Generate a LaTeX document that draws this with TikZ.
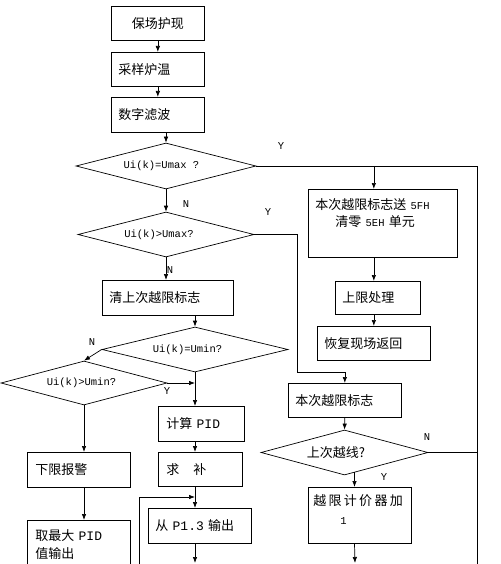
\documentclass[tikz,border=0pt]{standalone}
\usepackage{fontspec}
\setmainfont{Noto Sans CJK SC}
\setmonofont{Liberation Mono}
\usetikzlibrary{arrows.meta,shapes.geometric}
\newcommand\ksp{\kern2.3pt}
\begin{document}
\begin{tikzpicture}[x=1pt,y=-1pt,
  line width=0.7pt,
  box/.style={draw, rectangle, anchor=north west, inner xsep=7pt, inner ysep=0pt,
    font=\fontsize{13}{15.6}\selectfont, align=left},
  dia/.style={draw, diamond, shape aspect=4, inner sep=0pt,
    font=\ttfamily\fontsize{10.5}{12}\selectfont},
  arr/.style={-{Latex[length=6pt,width=4.5pt]}},
  lbl/.style={font=\ttfamily\fontsize{10.5}{12}\selectfont, inner sep=0pt}
]
\useasboundingbox (0,0) rectangle (500,564);

% boxes
\node[box, minimum width=93, minimum height=34, text width=79, align=center] (b1) at (111,6) {保场护现};
\node[box, minimum width=93, minimum height=34, text width=79] (b2) at (111,52) {采样炉温};
\node[box, minimum width=93, minimum height=35, text width=79] (b3) at (111,97) {数字滤波};
\node[box, minimum width=149, minimum height=68, text width=135] (b4) at (308,189)
  {本次越限标志送 {\ttfamily\fontsize{10.5}{12}\selectfont 5FH}\\[1.4pt]
   \hspace*{20pt}清零 {\ttfamily\fontsize{10.5}{12}\selectfont 5EH} 单元\\[7pt]\mbox{}};
\node[box, minimum width=85, minimum height=33, text width=71] (b5) at (335,281) {上限处理};
\node[box, minimum width=113, minimum height=34, text width=99] (b6) at (317,326) {恢复现场返回};
\node[box, minimum width=113, minimum height=34, text width=99] (b7) at (288,383) {本次越限标志};
\node[box, minimum width=103, minimum height=56, text width=93, inner xsep=5pt] (b8) at (308,487)
  {越\ksp 限\ksp 计\ksp 价\ksp 器\ksp 加\\[3.4pt]
   \hspace*{27pt}{\ttfamily\fontsize{10.5}{12}\selectfont 1}\\[-4pt]\mbox{}};
\node[box, minimum width=131, minimum height=35, text width=117] (b9) at (102,280) {清上次越限标志};
\node[box, minimum width=84, minimum height=35, text width=70, inner xsep=8pt] (b10) at (158,406)
  {计算 {\ttfamily PID}};
\node[box, minimum width=84, minimum height=34, text width=68, inner xsep=8pt] (b11) at (158,452)
  {求\hspace{14pt}补};
\node[box, minimum width=103, minimum height=35, text width=89] (b12) at (148,508)
  {从 {\ttfamily P1.3} 输出};
\node[box, minimum width=103, minimum height=35, text width=87, inner xsep=8pt] (b13) at (27,452) {下限报警};
\node[box, minimum width=103, minimum height=60, text width=87, inner xsep=8pt] (b14) at (27,520)
  {取最大 {\ttfamily PID}\\[2.4pt]值输出\\[-3.6pt]\mbox{}};

% diamonds
\node[dia, minimum width=180, minimum height=46] (d1) at (166,166) {Ui(k)=Umax ?\kern9pt};
\node[dia, minimum width=176, minimum height=45] (d2) at (166,234.5) {Ui(k)>Umax?\kern14pt};
\node[dia, minimum width=186, minimum height=45] (d3) at (195,349.5) {Ui(k)=Umin?\kern15pt};
\node[dia, minimum width=166, minimum height=44] (d4) at (84,383) {Ui(k)>Umin?\kern5pt};
\node[dia, minimum width=167, minimum height=45, font=\fontsize{13}{15.6}\selectfont] (d5) at (344.5,452.5) {上次越线?\kern17pt};

% labels
\node[lbl] (l1) at (281,146) {Y};
\node[lbl] (l2) at (186,204) {N};
\node[lbl] (l3) at (268,212) {Y};
\node[lbl] (l4) at (170,270) {N};
\node[lbl] (l5) at (92,342) {N};
\node[lbl] (l6) at (167,391) {Y};
\node[lbl] (l7) at (427,437) {N};
\node[lbl] (l8) at (384,477) {Y};

% coordinates
\coordinate (rt) at (477,166);
\coordinate (rb) at (477,570);
\coordinate (k1) at (297,372);
\coordinate (q1) at ([xshift=10pt,yshift=3pt]d5.south);
\coordinate (bot1) at (355,563);
\coordinate (fb) at (139,570);
\coordinate (fj) at (195,497);
\coordinate (bot2) at (195,563);

% connectors
\draw[arr] (b1.south) -- (b2.north);
\draw[arr] (b2.south) -- (b3.north);
\draw[arr] (d1.north |- b3.south) -- (d1.north);
\draw[arr] (d1.south) -- (d2.north);
\draw (d1.east) -- (rt) -- (rb);
\draw[arr] (d1.east -| b6.north) -- (b4.north -| b6.north);
\draw[arr] (b4.south -| b6.north) -- (b5.north -| b6.north);
\draw[arr] (b5.south -| b6.north) -- (b6.north);
\draw[arr] (d2.east) -| (k1) -| (b7.north);
\draw[arr] (b7.south) -- (d5.north);
\draw (d5.east) -- (d5.east -| rt);
\draw[arr] (q1) -- (q1 |- b8.north);
\draw[arr] (b8.south -| q1) -- (bot1);
\draw[arr] (d2.south) -- (b9.north -| d2.south);
\draw[arr] (b9.south -| d3.north) -- (d3.north);
\draw[arr] (d3.west) -- (d4.north);
\draw[arr] (d4.east) -- (d4.east -| d3.south);
\draw[arr] (d3.south) -- (b10.north -| d3.south);
\draw[arr] (b10.south -| d3.south) -- (b11.north -| d3.south);
\draw[arr] (b11.south -| d3.south) -- (b12.north -| d3.south);
\draw[arr] (fb) |- (fj);
\draw[arr] (b12.south -| d3.south) -- (bot2);
\draw[arr] (d4.south) -- (b13.north -| d4.south);
\draw[arr] (b13.south -| d4.south) -- (b14.north -| d4.south);
\end{tikzpicture}
\end{document}
